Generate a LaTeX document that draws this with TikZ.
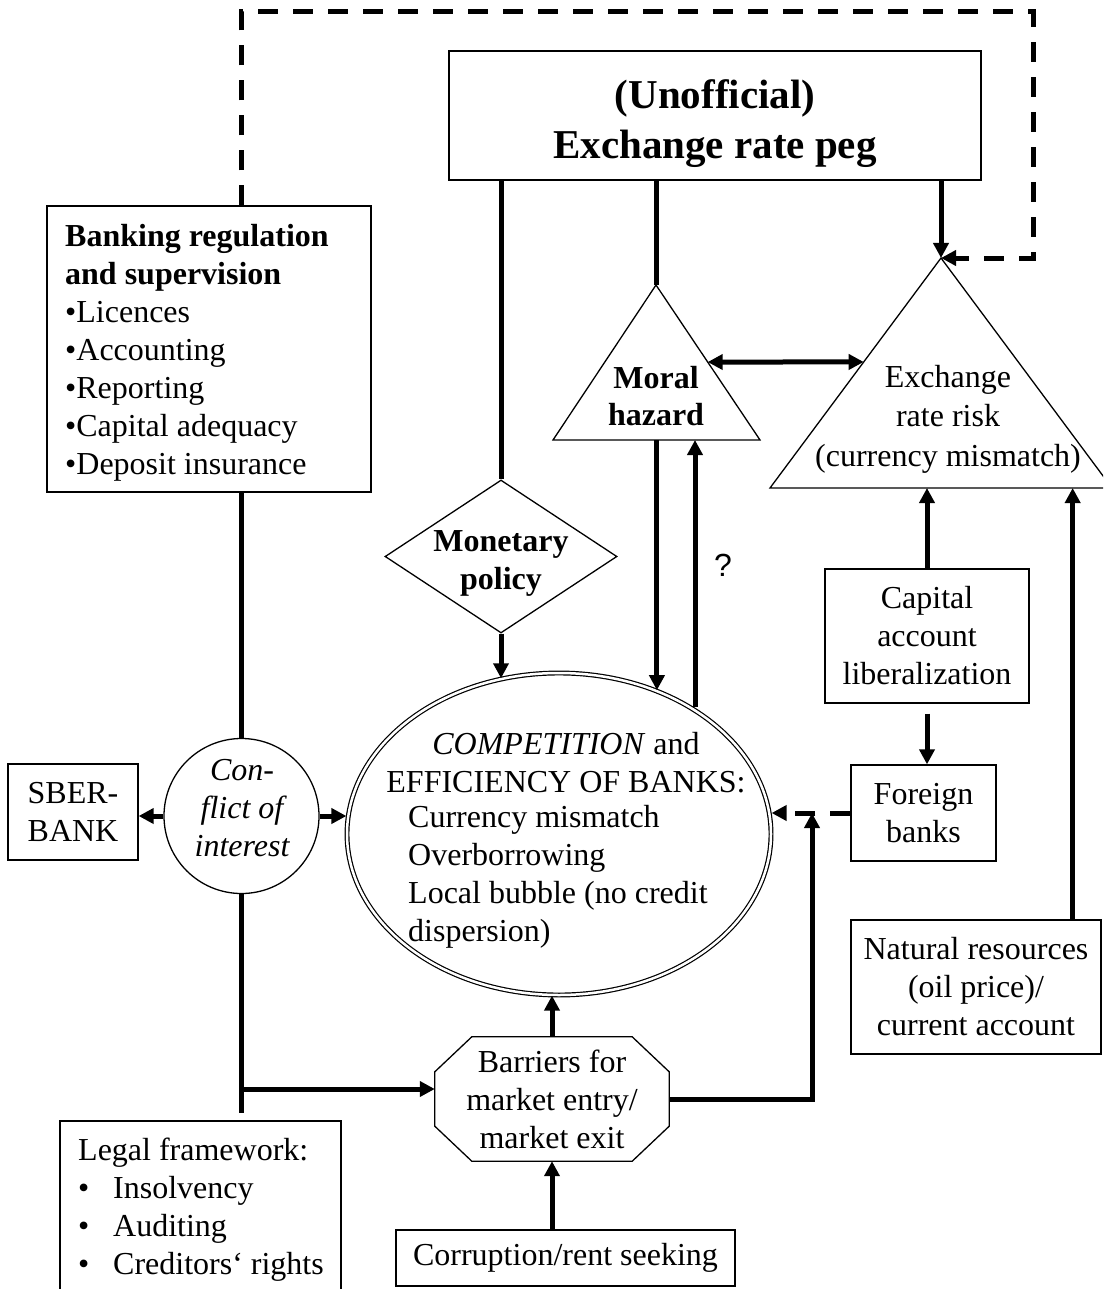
\documentclass[tikz,border=0pt]{standalone}
\usepackage{fontspec}
\setmainfont{Liberation Serif}
\newfontfamily\qfont{Liberation Sans}
\usetikzlibrary{arrows.meta,shapes.geometric,shapes.misc,calc}
\begin{document}
\begin{tikzpicture}[x=1pt,y=-1pt,
  nfont/.style={font=\fontsize{32}{38}\selectfont},
  box/.style={draw,line width=1.3pt,rectangle,inner sep=0pt,align=center,nfont},
  txt/.style={inner sep=0pt,align=center,nfont},
  conn/.style={line width=5pt},
  arr/.style={line width=5pt,-{Triangle[length=15pt,width=15pt]}},
  darr/.style={line width=5pt,{Triangle[length=15pt,width=15pt]}-{Triangle[length=15pt,width=15pt]}},
  dashline/.style={line width=5pt,dash pattern=on 20pt off 15pt},
  dasharr/.style={dashline,-{Triangle[length=15pt,width=15pt]}},
  outl/.style={line width=1.3pt}
]
\useasboundingbox (0,0) rectangle (1103,1289);
\clip (0,0) rectangle (1103,1289);

% ---------- shapes ----------
\node[box,minimum width=532pt,minimum height=129pt] (peg) at (715,115.5) {};
\node[txt,font=\bfseries\fontsize{41}{50}\selectfont] (pegt) at (715,124) {(Unofficial)\\Exchange rate peg};

\node[box,minimum width=324pt,minimum height=286pt] (bank) at (209,349) {};
\node[txt,anchor=west,align=left] (bankt) at (65,353)
  {\textbf{Banking regulation}\\\textbf{and supervision}\\•Licences\\•Accounting\\•Reporting\\•Capital adequacy\\•Deposit insurance};

% moral hazard triangle
\coordinate (mhA) at (656,285);
\coordinate (mhL) at (553,440);
\coordinate (mhR) at (760,440);
\draw[outl] (mhA) -- (mhL) -- (mhR) -- cycle;
\node[txt,font=\bfseries\fontsize{32}{37}\selectfont] (mht) at (656,396) {Moral\\hazard};

% exchange rate risk triangle
\coordinate (exA) at (941,258);
\coordinate (exL) at (770,488);
\coordinate (exR) at (1112,488);
\draw[outl] (exA) -- (exL) -- (exR) -- cycle;
\node[txt,font=\fontsize{32}{39.5}\selectfont] (ext) at (948,419) {Exchange\\rate risk\\(currency mismatch)};

% monetary policy diamond
\node[diamond,draw,outl,minimum width=232pt,minimum height=153pt,inner sep=0pt] (mon) at (501,556.5) {};
\node[txt,font=\bfseries\fontsize{32}{38}\selectfont] (mont) at (501,563) {Monetary\\policy};
\node[txt,font=\qfont\fontsize{32}{38}\selectfont] (q) at (723,565) {?};

% central ellipse
\node[ellipse,draw,double,line width=1.2pt,double distance=2.5pt,minimum width=424pt,minimum height=322pt,inner sep=0pt] (ell) at (559,834) {};
\node[txt] (ellt1) at (566,763) {\textit{COMPETITION} and\\EFFICIENCY OF BANKS:};
\node[txt,anchor=west,align=left] (ellt2) at (408,877) {Currency mismatch\\Overborrowing\\Local bubble (no credit\\dispersion)};

% conflict of interest
\node[circle,draw,outl,minimum size=155pt,inner sep=0pt] (cf) at (241.5,816) {};
\node[txt,font=\itshape\fontsize{32}{38}\selectfont] (cft) at (242,808) {Con-\\flict of\\interest};

\node[box,minimum width=130pt,minimum height=96pt] (sber) at (73,812) {SBER-\\BANK};

% right column
\node[box,minimum width=204pt,minimum height=134pt] (cap) at (927,636) {Capital\\account\\liberalization};
\node[box,minimum width=145pt,minimum height=96pt] (fb) at (923.5,813) {Foreign\\banks};
\node[box,minimum width=250pt,minimum height=134pt] (nat) at (976,987) {Natural resources\\(oil price)/\\current account};

% barriers octagon
\node[txt,minimum width=234pt,minimum height=124pt] (oct) at (552,1099) {Barriers for\\market entry/\\market exit};
\draw[outl] ([xshift=37pt]oct.north west) -- ([xshift=-37pt]oct.north east)
  -- ([yshift=-35pt]oct.north east) -- ([yshift=35pt]oct.south east)
  -- ([xshift=-37pt]oct.south east) -- ([xshift=37pt]oct.south west)
  -- ([yshift=35pt]oct.south west) -- ([yshift=-35pt]oct.north west) -- cycle;

\node[box,minimum width=339pt,minimum height=56pt] (cor) at (565.5,1258) {Corruption/rent seeking};

% legal framework
\node[box,minimum width=281pt,minimum height=180pt] (legal) at (200.5,1211) {};
\node[txt,anchor=west,align=left] (legt) at (78,1210)
  {Legal framework:\\\makebox[35pt][l]{•}Insolvency\\\makebox[35pt][l]{•}Auditing\\\makebox[35pt][l]{•}Creditors‘ rights};

% ---------- connectors ----------
\coordinate (dTR) at (1033,12);
\coordinate (dBR) at (1033,258);
\draw[dasharr] (cf.north |- bank.north) |- (dTR) -- (dBR) -- (exA);

\draw[conn] (peg.south -| mon.north) -- (mon.north);
\draw[conn] (peg.south -| mhA) -- (mhA);
\draw[arr] (peg.south -| exA) -- (exA);

\coordinate (mhE) at ($(mhA)!0.497!(mhR)$);
\coordinate (exE) at ($(exA)!0.452!(exL)$);
\draw[darr] (mhE) -- (exE);

\coordinate (mhB1) at ($(mhL)!0.502!(mhR)$);
\coordinate (mhB2) at ($(mhL)!0.686!(mhR)$);
\draw[arr] (mhB1) -- (mhB1 |- ell.56);
\draw[arr] (mhB2 |- ell.44) -- (mhB2);

\draw[arr] (mon.south) -- (mon.south |- ell.110);

\draw[conn] (cf.north |- bank.south) -- (cf.north);
\draw[arr] (cf.east) -- (cf.east -| ell.west);
\draw[arr] (cf.west) -- (cf.west -| sber.east);
\draw[conn,shorten >=7pt] (cf.south) -- (cf.south |- legal.north);

\coordinate (j1) at (242,1089);
\draw[arr] (j1) -- (j1 -| oct.west);

\draw[arr] (oct.north) -- (oct.north |- ell.south);
\draw[arr] (cor.north -| oct.south) -- (oct.south);

\coordinate (jn) at (812,813);
\draw[arr] (oct.east) -| (jn);
\draw[dasharr] (fb.west) -- (fb.west -| ell.east);

\draw[arr,shorten <=10pt] (cap.south) -- (cap.south |- fb.north);
\draw[arr] (cap.north) -- (cap.north |- exL);
\coordinate (natT) at ([xshift=-29pt]nat.north east);
\draw[arr] (natT) -- (natT |- exL);
\end{tikzpicture}
\end{document}
